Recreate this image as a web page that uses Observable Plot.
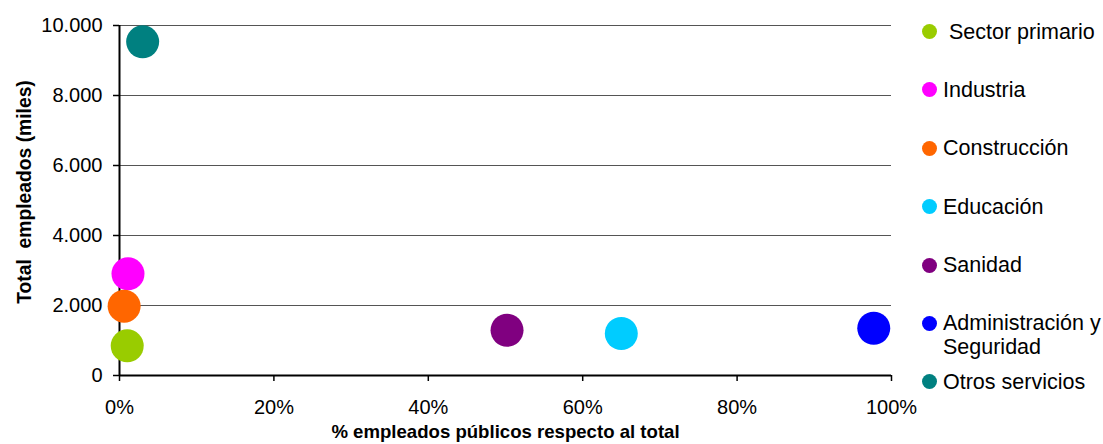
<!DOCTYPE html>
<html>
<head>
<meta charset="utf-8">
<script src="https://cdn.jsdelivr.net/npm/d3@7"></script>
<script src="https://cdn.jsdelivr.net/npm/@observablehq/plot@0.6"></script>
<style>
  html, body { margin: 0; padding: 0; background: #fff; }
  #wrap { position: relative; width: 1103px; height: 444px; font-family: "Liberation Sans", Arial, sans-serif; }
  #legend { position: absolute; left: 922px; top: 19.5px; }
  .item { height: 58.4px; display: flex; align-items: flex-start; font-size: 21.5px; line-height: 24px; color: #000; white-space: nowrap; }
  .sw { width: 15px; height: 15px; border-radius: 50%; margin-top: 4.5px; margin-right: 6px; flex: none; }
</style>
</head>
<body>
<div id="wrap"></div>
<script>
const sectors = ["Sector primario", "Industria", "Construcción", "Educación", "Sanidad", "Administración y Seguridad", "Otros servicios"];
const legendLabels = ["\u00a0Sector primario", "Industria", "Construcción", "Educación", "Sanidad", "Administración y<br>Seguridad", "Otros servicios"];
const pctPublic = [1.0, 1.1, 0.6, 65.0, 50.2, 97.7, 3.0];
const totalEmp = [848, 2905, 1981, 1200, 1294, 1351, 9534];
const colors = ["#99CC00", "#FF00FF", "#FF6600", "#00CCFF", "#800080", "#0000FF", "#008080"];
const xTicks = [0, 20, 40, 60, 80, 100];
const yTicks = [0, 2000, 4000, 6000, 8000, 10000];
const gridValues = [2000, 4000, 6000, 8000, 10000];
const xTitle = "% empleados públicos respecto al total";
const yTitle = "Total  empleados (miles)";

const data = sectors.map((s, i) => ({sector: s, x: pctPublic[i], y: totalEmp[i], color: colors[i]}));
const fmtY = d => d3.format(",")(d).replace(/,/g, ".");

const chart = Plot.plot({
  width: 1103,
  height: 444,
  marginLeft: 119,
  marginRight: 212,
  marginTop: 25,
  marginBottom: 69,
  style: {fontFamily: "'Liberation Sans', Arial, sans-serif", fontSize: "20px", color: "#000", background: "#fff"},
  x: {domain: [0, 100]},
  y: {domain: [0, 10000]},
  marks: [
    Plot.ruleY(gridValues, {stroke: "#555", strokeWidth: 1}),
    Plot.axisY({ticks: yTicks, tickSize: 6, tickPadding: 11, tickFormat: fmtY, label: null, stroke: "#000", strokeWidth: 1.5}),
    Plot.axisX({ticks: xTicks, tickSize: 6, tickPadding: 18, tickFormat: d => d + "%", label: null, stroke: "#000", strokeWidth: 1.5}),
    Plot.ruleX([0], {stroke: "#000", strokeWidth: 2}),
    Plot.ruleY([0], {stroke: "#000", strokeWidth: 2}),
    Plot.dot(data, {x: "x", y: "y", r: 16.5, fill: d => d.color, stroke: null}),
    Plot.text([xTitle], {frameAnchor: "bottom", lineAnchor: "middle", textAnchor: "middle", dy: 57, fontWeight: "bold", fontSize: 18.6, fill: "#000"}),
    Plot.text([yTitle], {frameAnchor: "left", textAnchor: "middle", lineAnchor: "middle", dx: -95, dy: -8.5, rotate: -90, fontWeight: "bold", fontSize: 19.3, fill: "#000"})
  ]
});

const wrap = document.getElementById("wrap");
wrap.appendChild(chart);

const legend = document.createElement("div");
legend.id = "legend";
sectors.forEach((s, i) => {
  const item = document.createElement("div");
  item.className = "item";
  const sw = document.createElement("span");
  sw.className = "sw";
  sw.style.background = colors[i];
  const t = document.createElement("span");
  t.innerHTML = legendLabels[i];
  item.appendChild(sw);
  item.appendChild(t);
  legend.appendChild(item);
});
wrap.appendChild(legend);
</script>
</body>
</html>
